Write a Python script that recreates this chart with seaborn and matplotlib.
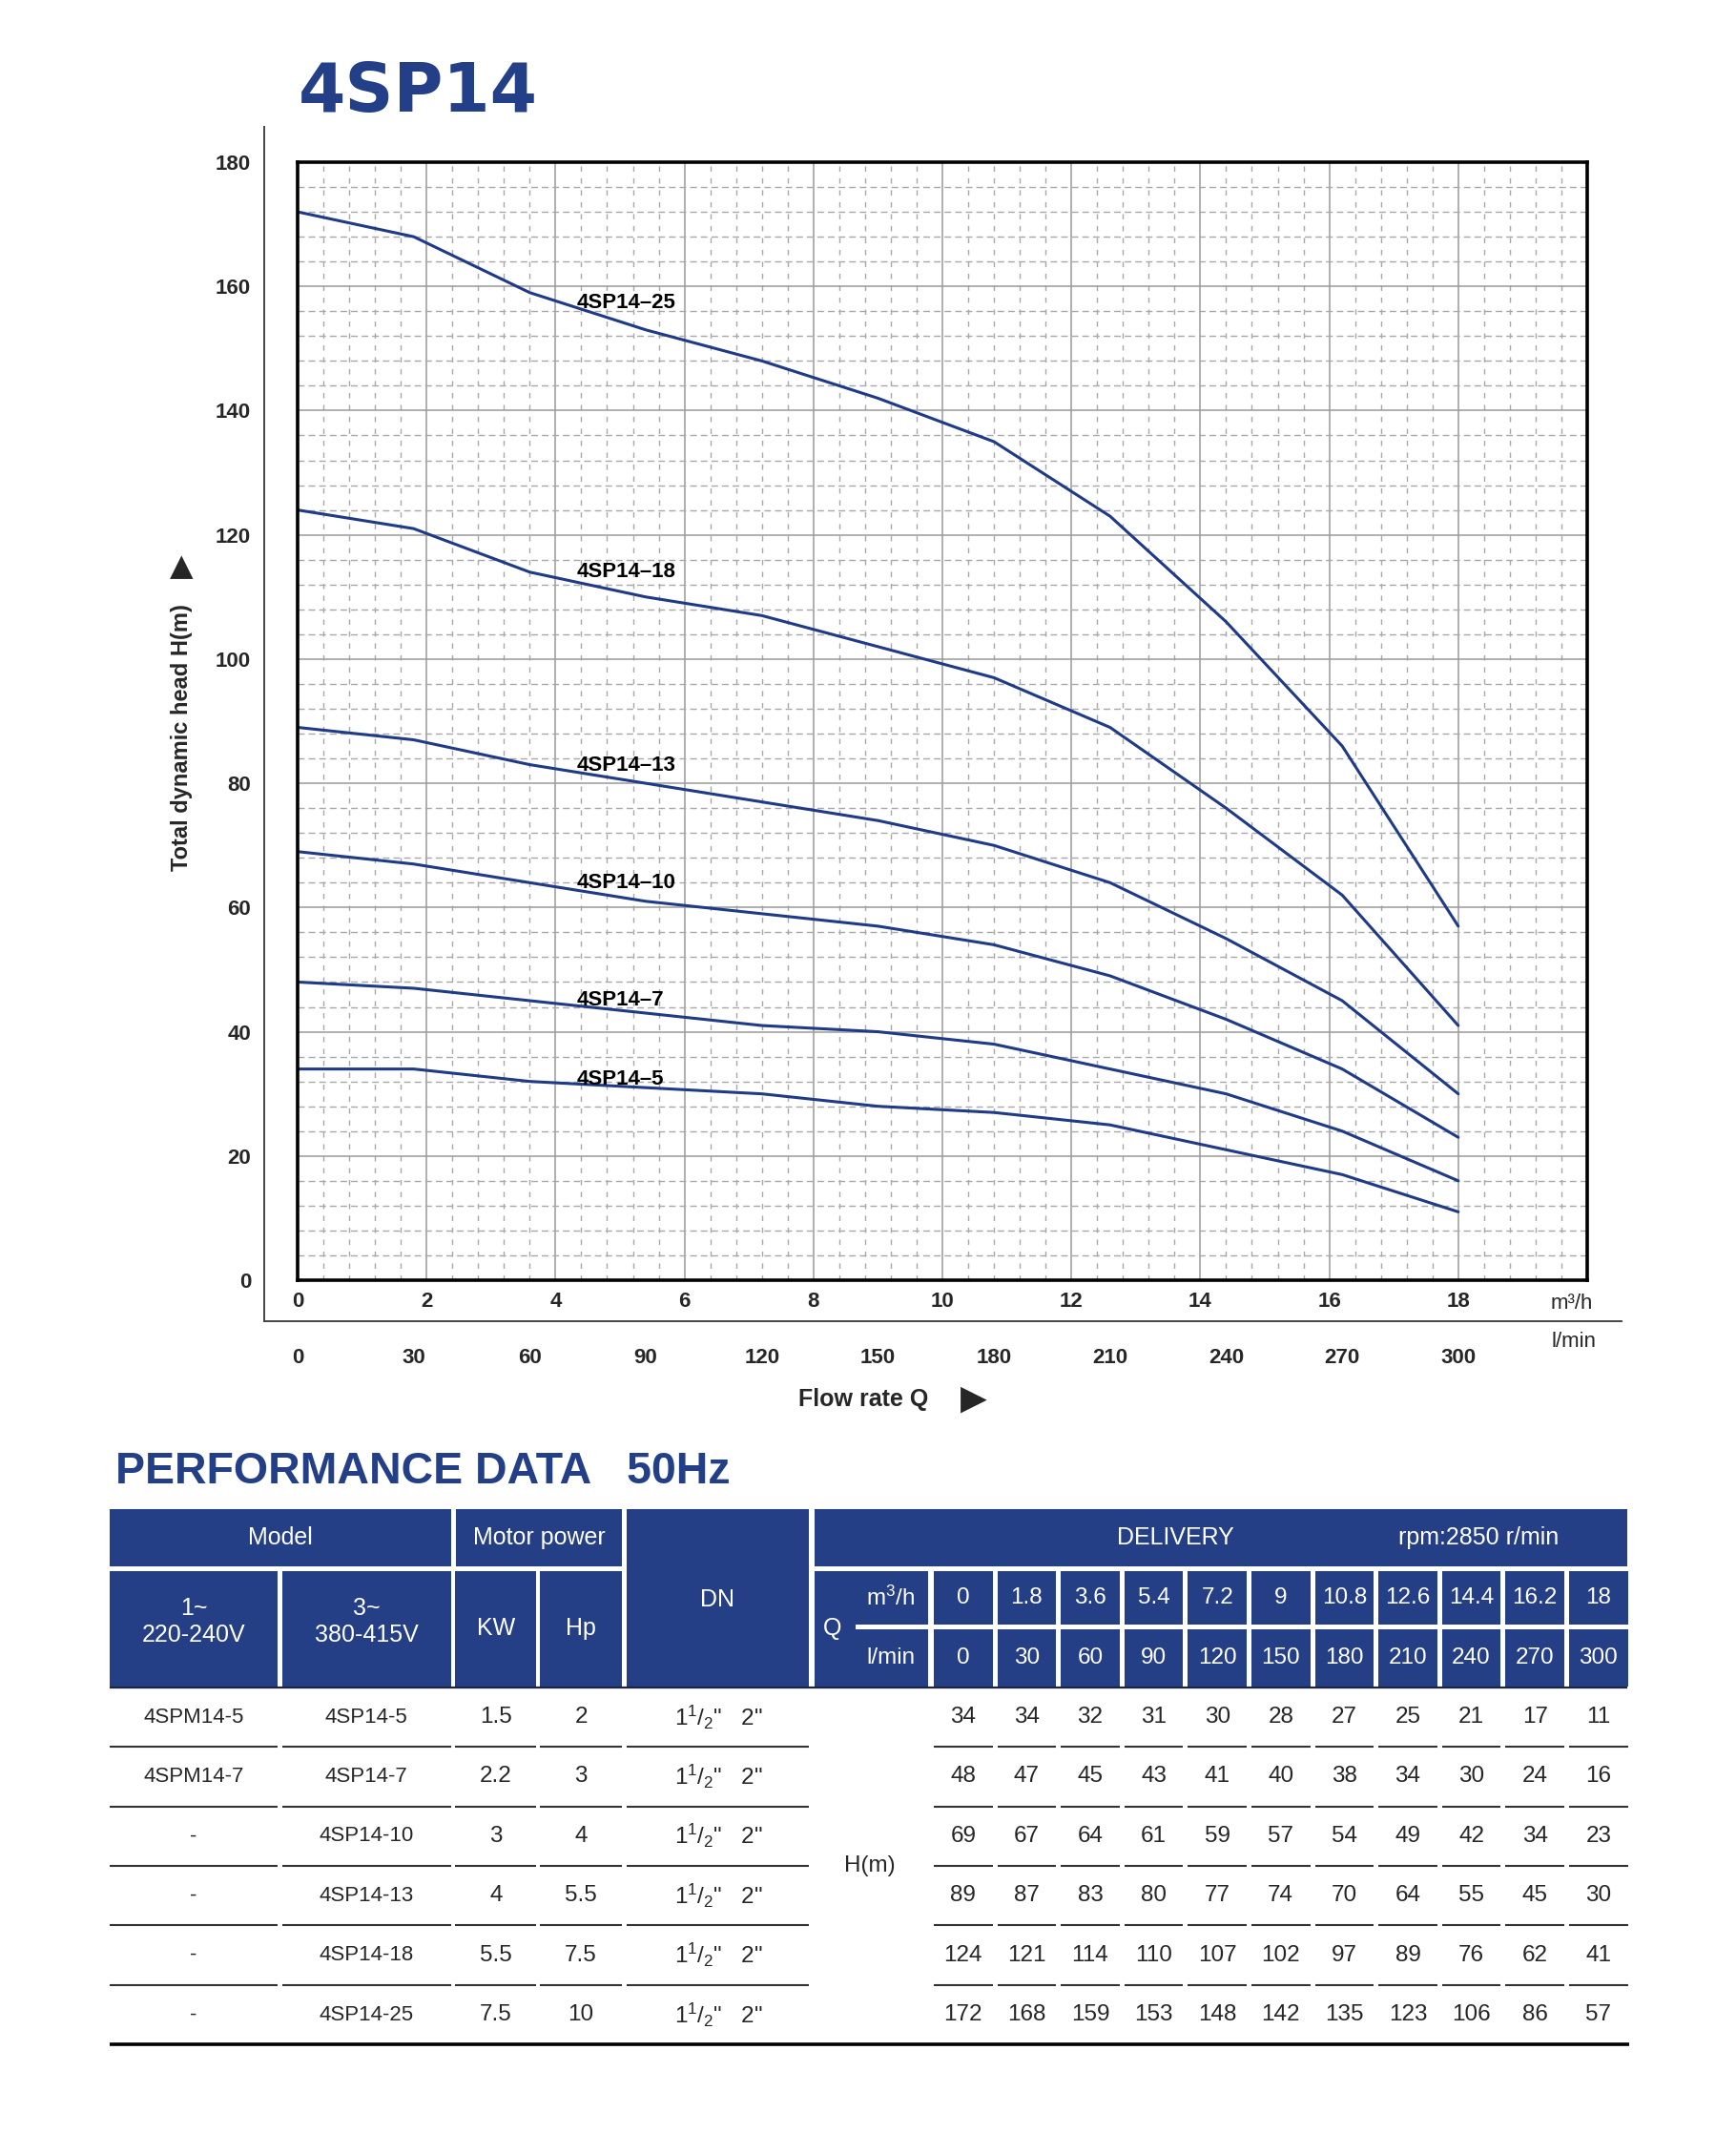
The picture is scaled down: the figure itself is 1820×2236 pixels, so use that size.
import numpy as np
import pandas as pd
import seaborn as sns
import matplotlib.pyplot as plt
from matplotlib.ticker import MultipleLocator
from matplotlib.patches import Rectangle

# flow points, m3/h and l/min
q_m3h = [0, 1.8, 3.6, 5.4, 7.2, 9, 10.8, 12.6, 14.4, 16.2, 18]
q_lmin = [0, 30, 60, 90, 120, 150, 180, 210, 240, 270, 300]

models_1ph = ['4SPM14-5', '4SPM14-7', '-', '-', '-', '-']
models_3ph = ['4SP14-5', '4SP14-7', '4SP14-10', '4SP14-13', '4SP14-18', '4SP14-25']
power_kw = ['1.5', '2.2', '3', '4', '5.5', '7.5']
power_hp = ['2', '3', '4', '5.5', '7.5', '10']

# head H(m) for each model
head_5 = [34, 34, 32, 31, 30, 28, 27, 25, 21, 17, 11]
head_7 = [48, 47, 45, 43, 41, 40, 38, 34, 30, 24, 16]
head_10 = [69, 67, 64, 61, 59, 57, 54, 49, 42, 34, 23]
head_13 = [89, 87, 83, 80, 77, 74, 70, 64, 55, 45, 30]
head_18 = [124, 121, 114, 110, 107, 102, 97, 89, 76, 62, 41]
head_25 = [172, 168, 159, 153, 148, 142, 135, 123, 106, 86, 57]
heads = [head_5, head_7, head_10, head_13, head_18, head_25]

# where the curve names sit (x in m3/h, y in m)
label_x = 4.33
label_y = [32.4, 45.0, 64.0, 82.9, 114.1, 157.4]

y_ticks = list(range(0, 181, 20))
x_ticks = list(range(0, 19, 2))

BLUE = '#233f88'
HDR = '#243f85'
CURVE = '#1f3a86'

sns.set_style('white')
plt.rcParams['font.family'] = ['Liberation Sans', 'DejaVu Sans']
plt.rcParams['mathtext.default'] = 'regular'

W, H = 1820, 2236


def box(l, t, r, b):
    return [l / W, 1 - b / H, (r - l) / W, (b - t) / H]


fig = plt.figure(figsize=(W / 100, H / 100), dpi=100)

# plot box in pixels
PL, PT, PR, PB = 312, 170, 1664, 1342
# outer L frame in pixels
OL, OT, OR, OB = 277, 133, 1700, 1385

fr = fig.add_axes(box(OL, OT, OR, OB), zorder=0)
ax = fig.add_axes(box(PL, PT, PR, PB), zorder=1)

# ---- main chart ----
df = pd.DataFrame({
    'Q': q_m3h * len(heads),
    'H': sum(heads, []),
    'model': np.repeat(models_3ph, len(q_m3h)),
})
sns.lineplot(data=df, x='Q', y='H', units='model', estimator=None,
             color=CURVE, lw=2.2, ax=ax, legend=False, sort=False)

ax.set_xlim(0, 20)
ax.set_ylim(0, 180)
ax.set_xticks(x_ticks)
ax.set_xticklabels([str(v) for v in x_ticks], fontsize=16, fontweight='bold')
ax.set_yticks(y_ticks)
ax.tick_params(axis='y', length=0, labelleft=False)
ax.tick_params(axis='x', length=0, pad=9)
ax.xaxis.set_minor_locator(MultipleLocator(0.4))
ax.yaxis.set_minor_locator(MultipleLocator(4))
ax.tick_params(which='minor', length=0)
ax.set_axisbelow(True)
ax.grid(which='major', color='#9a9a9a', lw=1.1, ls='-')
ax.grid(which='minor', axis='x', color='#a8a8a8', lw=1.0, ls=(0, (4, 5)))
ax.grid(which='minor', axis='y', color='#a8a8a8', lw=1.0, ls=(0, (5, 3)))
for s in ax.spines.values():
    s.set_color('black')
    s.set_linewidth(2.6)
ax.set_xlabel('')
ax.set_ylabel('')

for name, yy in zip(models_3ph, label_y):
    ax.text(label_x, yy, name.replace('-', '–'), fontsize=16, fontweight='bold',
            va='center', ha='left', color='black')

# ---- outer frame with head ticks and l/min ticks ----
xs = 20 / (PR - PL)
ys = 180 / (PB - PT)
fr.set_xlim(-(PL - OL) * xs, 20 + (OR - PR) * xs)
fr.set_ylim(-(OB - PB) * ys, 180 + (PT - OT) * ys)
fr.patch.set_visible(False)
for side in ['top', 'right']:
    fr.spines[side].set_visible(False)
for side in ['left', 'bottom']:
    fr.spines[side].set_color('#444444')
    fr.spines[side].set_linewidth(1.4)
fr.set_yticks(y_ticks)
fr.set_yticklabels([str(v) for v in y_ticks], fontsize=16, fontweight='bold')
fr.set_xticks(q_m3h)
fr.set_xticklabels([str(v) for v in q_lmin], fontsize=16, fontweight='bold')
fr.tick_params(axis='y', direction='out', length=6, width=1, color='#888888', pad=4)
fr.tick_params(axis='x', direction='out', length=8, width=1, color='#888888', pad=12)

# ---- pixel layer for titles and the table ----
tb = fig.add_axes([0, 0, 1, 1], zorder=2)
tb.set_xlim(0, W)
tb.set_ylim(H, 0)
tb.axis('off')

tb.text(313, 117, '4SP14', fontsize=51, fontweight='bold', color=BLUE,
        family=['DejaVu Sans'], va='baseline', ha='left')
tb.text(1648, 1366, 'm³/h', fontsize=16, va='center', ha='center')
tb.text(1650, 1406, 'l/min', fontsize=16, va='center', ha='center')
tb.text(905, 1467, 'Flow rate Q', fontsize=18, fontweight='bold', va='center', ha='center')
tb.text(1021, 1467, '▶', fontsize=26, family=['DejaVu Sans'], va='center', ha='center')
tb.text(190, 773, 'Total dynamic head H(m)', fontsize=17, fontweight='bold',
        rotation=90, va='center', ha='center')
tb.text(190, 595, '▲', fontsize=23, family=['DejaVu Sans'], va='center', ha='center')

tb.text(121, 1555, 'PERFORMANCE DATA   50Hz', fontsize=33.5, fontweight='bold',
        color=BLUE, va='baseline', ha='left')

# header cells
head_cells = [
    (115, 1582, 473, 1642, 'Model', 294, 1612),
    (478, 1582, 652, 1642, 'Motor power', 565, 1612),
    (657, 1582, 848, 1768, 'DN', 752, 1677),
    (854, 1582, 1706, 1642, 'DELIVERY', 1232, 1612),
    (115, 1647, 291, 1768, '1~\n220-240V', 203, 1700),
    (296, 1647, 473, 1768, '3~\n380-415V', 384, 1700),
    (477, 1647, 562, 1768, 'KW', 520, 1707),
    (566, 1647, 652, 1768, 'Hp', 609, 1707),
    (854, 1647, 973, 1768, 'Q', 873, 1707),
]
for l, t, r, b, txt, cx, cy in head_cells:
    tb.add_patch(Rectangle((l, t), r - l, b - t, color=HDR, lw=0))
    tb.text(cx, cy, txt, color='white', fontsize=18, ha='center', va='center',
            linespacing=1.25)
tb.text(1550, 1612, 'rpm:2850 r/min', color='white', fontsize=18, ha='center', va='center')
tb.add_patch(Rectangle((897, 1703), 76, 5, color='white', lw=0))
tb.text(934, 1675, 'm$^3$/h', color='white', fontsize=17.5, ha='center', va='center')
tb.text(934, 1738, 'l/min', color='white', fontsize=17.5, ha='center', va='center')

col_x0 = 979
col_step = 66.6
col_w = 61.5
for i, (qm, ql) in enumerate(zip(q_m3h, q_lmin)):
    x0 = col_x0 + col_step * i
    tb.add_patch(Rectangle((x0, 1647), col_w, 56, color=HDR, lw=0))
    tb.add_patch(Rectangle((x0, 1708), col_w, 60, color=HDR, lw=0))
    tb.text(x0 + col_w / 2, 1675, f'{qm:g}', color='white', fontsize=17.5, ha='center', va='center')
    tb.text(x0 + col_w / 2, 1738, f'{ql:g}', color='white', fontsize=17.5, ha='center', va='center')
tb.plot([115, 1706], [1769, 1769], color='#1c2540', lw=1.6, solid_capstyle='butt')

# body rows
left_cols = [(115, 291), (296, 473), (477, 562), (566, 652), (657, 848)]
right_cols = [(col_x0 + col_step * i, col_x0 + col_step * i + col_w) for i in range(11)]
row_y0 = 1800
row_step = 62.4
dn_text = '1$^{1}$/$_{2}$"   2"'
for r in range(len(models_3ph)):
    cy = row_y0 + row_step * r
    tb.text(203, cy, models_1ph[r], fontsize=16, ha='center', va='center')
    tb.text(384, cy, models_3ph[r], fontsize=16, ha='center', va='center')
    tb.text(520, cy, power_kw[r], fontsize=17.5, ha='center', va='center')
    tb.text(609, cy, power_hp[r], fontsize=17.5, ha='center', va='center')
    tb.text(753, cy, dn_text, fontsize=17.5, ha='center', va='center')
    for i, v in enumerate(heads[r]):
        x0 = col_x0 + col_step * i
        tb.text(x0 + col_w / 2, cy, str(v), fontsize=17.5, ha='center', va='center')
    if r < len(models_3ph) - 1:
        ly = cy + row_step / 2
        for a, b in left_cols + right_cols:
            tb.plot([a, b], [ly, ly], color='#333333', lw=1.5, solid_capstyle='butt')
tb.plot([115, 1708], [2143, 2143], color='black', lw=2.6, solid_capstyle='butt')
tb.text(912, 1956, 'H(m)', fontsize=17.5, ha='center', va='center')

fig.savefig('out.png', dpi=100)
